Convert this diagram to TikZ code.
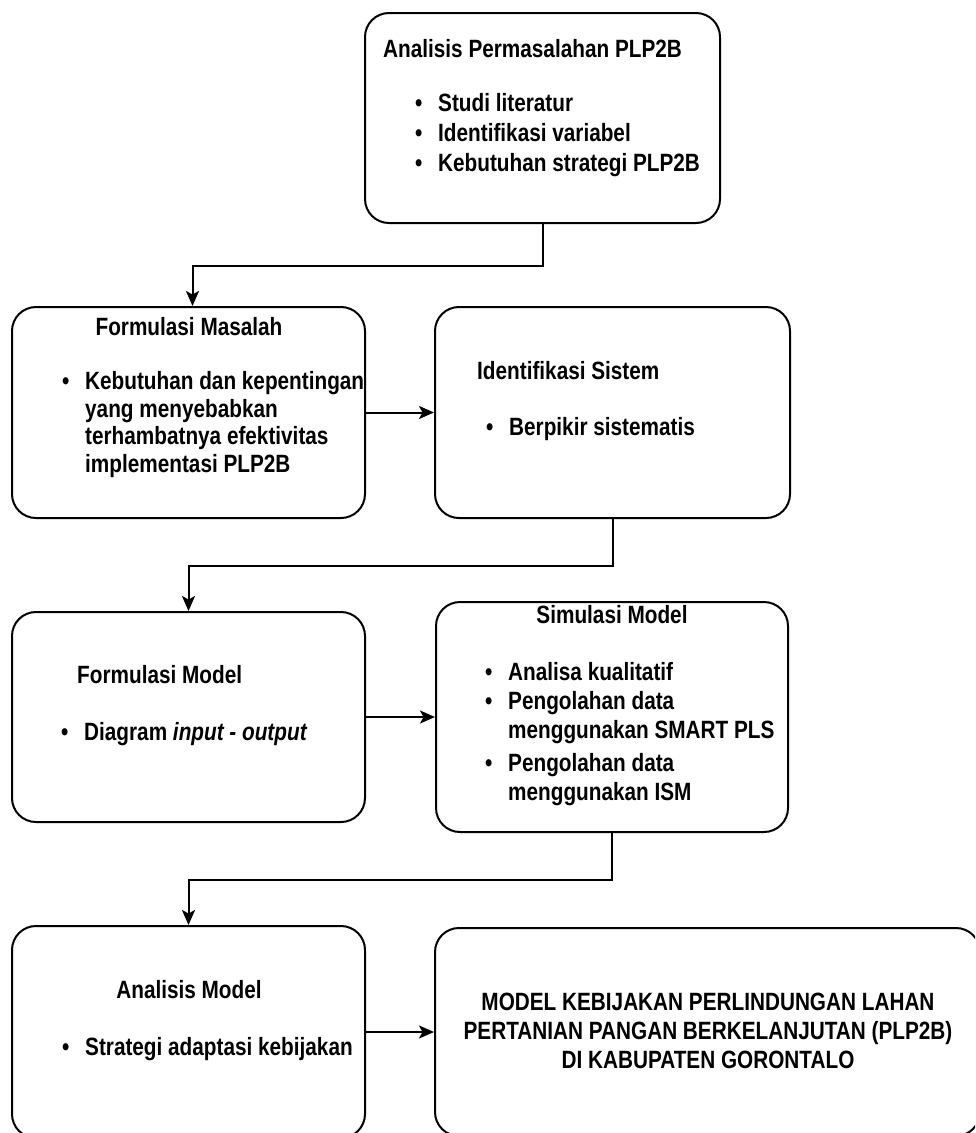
\documentclass[tikz,border=0pt]{standalone}
\usepackage{fontspec}
\setmainfont{Liberation Sans}[FakeStretch=0.83]
\usetikzlibrary{arrows.meta}
\newcommand{\bpt}{\makebox[23pt][l]{\textbullet}}

\begin{document}
\begin{tikzpicture}[x=1pt,y=-1pt,
  font={\fontsize{25}{29}\selectfont\bfseries},
  box/.style={draw, line width=2pt, rounded corners=24pt, inner sep=0pt},
  ttl/.style={anchor=base west, inner sep=0pt},
  ttlc/.style={anchor=base, inner sep=0pt},
  itm/.style={anchor=base west, inner sep=0pt, align=left},
  arr/.style={line width=2pt, -{Stealth[length=15pt,width=13pt,inset=3.5pt]}}]
\useasboundingbox (0,0) rectangle (975,1133);
\clip (0,0) rectangle (975,1133);

% the seven steps
\node[box, minimum width=355, minimum height=210] (ana) at (542.5,118) {};
\node[box, minimum width=353, minimum height=211] (fmas) at (188.5,412.5) {};
\node[box, minimum width=355, minimum height=211] (idsis) at (612.5,412.5) {};
\node[box, minimum width=353, minimum height=210] (fmod) at (188.5,717) {};
\node[box, minimum width=352, minimum height=230] (sim) at (612,717) {};
\node[box, minimum width=353, minimum height=212] (anmod) at (188.5,1032) {};
\node[box, minimum width=545, minimum height=208] (hasil) at (707.5,1032) {};

% texts (a list node sits on the baseline of its last line)
\node[ttl] (anat) at (383,57) {Analisis Permasalahan PLP2B};
\node[itm] (anal) at (415,171) {\bpt Studi literatur\\[1pt]\bpt Identifikasi variabel\\[1pt]\bpt Kebutuhan strategi PLP2B};

\node[ttlc] (fmast) at (189,335) {Formulasi Masalah};
\node[itm] (fmasl) at (62,472) {\bpt Kebutuhan dan kepentingan\\[-1.5pt]\hspace*{23pt}yang menyebabkan\\[-1.5pt]\hspace*{23pt}terhambatnya efektivitas\\[-1.5pt]\hspace*{23pt}implementasi PLP2B};

\node[ttl] (idsist) at (477,379) {Identifikasi Sistem};
\node[itm] (idsisl) at (486,435) {\bpt Berpikir sistematis};

\node[ttl] (fmodt) at (77,683) {Formulasi Model};
\node[itm] (fmodl) at (61,740) {\bpt Diagram \textit{input - output}};

\node[ttlc] (simt) at (612,623) {Simulasi Model};
\node[itm] (siml) at (485,800) {\bpt Analisa kualitatif\\\bpt Pengolahan data\\\hspace*{23pt}menggunakan SMART PLS\\[4pt]\bpt Pengolahan data\\\hspace*{23pt}menggunakan ISM};

\node[ttlc] (anmodt) at (189,998) {Analisis Model};
\node[itm] (anmodl) at (62,1055) {\bpt Strategi adaptasi kebijakan};

\node[anchor=base, align=center, inner sep=0pt] (hasilt) at (708,1068) {MODEL KEBIJAKAN PERLINDUNGAN LAHAN\\PERTANIAN PANGAN BERKELANJUTAN (PLP2B)\\DI KABUPATEN GORONTALO};

% flow
\draw[arr] (ana.south) -- ++(0,42) -| ([xshift=4]fmas.north);
\draw[arr] (fmas.east) -- (idsis.west);
\draw[arr] (idsis.south) -- ++(0,47) -| (fmod.north);
\draw[arr] (fmod.east) -- (sim.west);
\draw[arr] (sim.south) -- ++(0,47) -| (anmod.north);
\draw[arr] (anmod.east) -- (hasil.west);
\end{tikzpicture}
\end{document}
